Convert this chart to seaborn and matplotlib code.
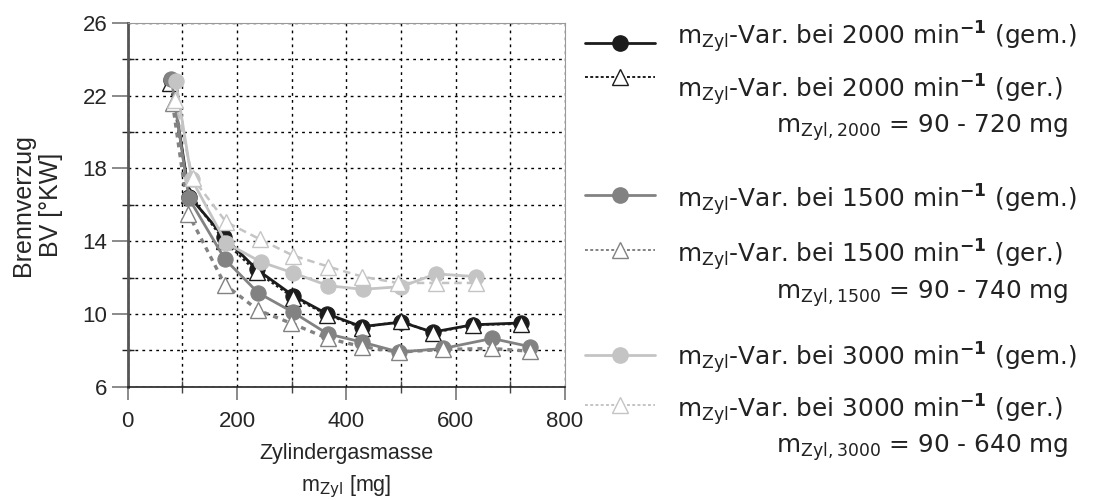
import numpy as np
import pandas as pd
import seaborn as sns
import matplotlib.pyplot as plt
from matplotlib.lines import Line2D
from matplotlib.ticker import MultipleLocator

# 2000 1/min
x_2000_gem = [80, 113, 177, 236, 303, 365, 428, 501, 558, 631, 719]
bv_2000_gem = [22.85, 16.45, 14.2, 12.45, 11.0, 10.0, 9.3, 9.55, 9.0, 9.4, 9.5]
x_2000_ger = [78, 113, 177, 236, 303, 365, 428, 501, 558, 631, 719]
bv_2000_ger = [22.7, 16.55, 14.0, 12.3, 10.9, 9.95, 9.25, 9.6, 8.95, 9.4, 9.45]

# 1500 1/min
x_1500_gem = [80, 112, 178, 239, 302, 366, 429, 497, 577, 667, 736]
bv_1500_gem = [22.9, 16.35, 13.0, 11.15, 10.1, 8.9, 8.45, 7.9, 8.1, 8.65, 8.2]
x_1500_ger = [82, 111, 178, 239, 298, 366, 429, 497, 577, 666, 736]
bv_1500_ger = [21.6, 15.5, 11.6, 10.2, 9.5, 8.65, 8.2, 7.9, 8.05, 8.1, 7.95]

# 3000 1/min
x_3000_gem = [88, 117, 180, 244, 303, 367, 430, 501, 564, 637]
bv_3000_gem = [22.8, 17.4, 13.9, 12.85, 12.25, 11.55, 11.35, 11.5, 12.2, 12.05]
x_3000_ger = [87, 119, 180, 242, 303, 367, 429, 494, 564, 637]
bv_3000_ger = [21.75, 17.45, 15.05, 14.1, 13.2, 12.6, 12.05, 11.7, 11.7, 11.7]

drehzahl = ["2000", "1500", "3000"]
bereich = ["90 - 720 mg", "90 - 740 mg", "90 - 640 mg"]
farben = ["#1c1c1c", "#828282", "#c4c4c4"]
y_ticks = [6, 10, 14, 18, 22, 26]
x_ticks = [0, 200, 400, 600, 800]

sns.set_style("white")
plt.rcParams['font.family'] = ['Liberation Sans', 'DejaVu Sans']
plt.rcParams['mathtext.fontset'] = 'dejavusans'

fig = plt.figure(figsize=(10.99, 5.0), dpi=100)
ax = fig.add_axes([0.1162, 0.2266, 0.3978, 0.728])

serien = [
    (x_2000_gem, bv_2000_gem, x_2000_ger, bv_2000_ger),
    (x_1500_gem, bv_1500_gem, x_1500_ger, bv_1500_ger),
    (x_3000_gem, bv_3000_gem, x_3000_ger, bv_3000_ger),
]
ger_ls = [(0, (1.2, 1.2)), (0, (1.5, 1.5)), (0, (3, 2))]
ger_lw = [1.6, 2.4, 1.8]

for i, (xg, yg, xr, yr) in enumerate(serien):
    c = farben[i]
    sns.lineplot(x=xg, y=yg, ax=ax, color=c, lw=2.0, marker="o",
                 markersize=11, markeredgecolor=c, markerfacecolor=c,
                 sort=False, zorder=3 + 2 * i)
    sns.lineplot(x=xr, y=yr, ax=ax, color=c, lw=ger_lw[i], linestyle=ger_ls[i],
                 marker="^", markersize=12, markeredgecolor=c,
                 markerfacecolor="white", markeredgewidth=1.0,
                 sort=False, zorder=4 + 2 * i)

ax.set_xlim(0, 800)
ax.set_ylim(6, 26)
ax.set_xticks(x_ticks)
ax.set_yticks(y_ticks)
ax.xaxis.set_minor_locator(MultipleLocator(100))
ax.yaxis.set_minor_locator(MultipleLocator(2))
ax.grid(which="both", color="black", linestyle=(0, (2, 3)), linewidth=1.0)
ax.set_axisbelow(True)

ax.tick_params(axis="x", which="major", direction="out", length=9.5, width=1.2,
               color="#777777", labelsize=16, pad=8, bottom=True)
ax.tick_params(axis="x", which="minor", direction="inout", length=8, width=1,
               color="#444444", bottom=True)
ax.tick_params(axis="y", which="major", direction="out", length=11.5, width=1.2,
               color="#777777", labelsize=16, pad=3, left=True)
ax.tick_params(axis="y", which="minor", direction="inout", length=9, width=1,
               color="#222222", left=True)

for s in ["top", "right"]:
    ax.spines[s].set_color("#999999")
    ax.spines[s].set_linewidth(0.8)
ax.spines["left"].set_color("#555555")
ax.spines["left"].set_linewidth(2.0)
ax.spines["bottom"].set_color("#222222")
ax.spines["bottom"].set_linewidth(1.2)

ax.set_ylabel("Brennverzug\nBV [°KW]", fontsize=18, labelpad=14,
              linespacing=1.2)
ax.set_xlabel("Zylindergasmasse\nm$_{\\mathrm{Zyl}}$ [mg]", fontsize=15.5,
              labelpad=8, linespacing=1.5)

# Legende
zeilen_y = [[0.914, 0.846], [0.610, 0.500], [0.290, 0.190]]
text_y = [[0.926, 0.820], [0.600, 0.490], [0.284, 0.180]]
bereich_y = [0.745, 0.413, 0.104]
gdef = ["gem.", "ger."]
for i in range(3):
    c = farben[i]
    for j in range(2):
        yy = zeilen_y[i][j]
        if j == 0:
            h = Line2D([0.532, 0.596], [yy, yy], color=c, lw=2.0,
                       transform=fig.transFigure)
            m = Line2D([0.564], [yy], marker="o", markersize=11, color=c,
                       transform=fig.transFigure)
        else:
            h = Line2D([0.532, 0.596], [yy, yy], color=c, lw=1.4,
                       linestyle=(0, (1.5, 1.2)), transform=fig.transFigure)
            m = Line2D([0.564], [yy], marker="^", markersize=12,
                       markerfacecolor="white", markeredgecolor=c,
                       markeredgewidth=1.0, color=c, transform=fig.transFigure)
        fig.add_artist(h)
        fig.add_artist(m)
        fig.text(0.616, text_y[i][j],
                 "m$_{\\mathrm{Zyl}}$-Var. bei " + drehzahl[i] +
                 " min$^{\\mathbf{-1}}$ (" + gdef[j] + ")",
                 fontsize=17.8, family="DejaVu Sans", color="#222222",
                 va="center", ha="left")
    fig.text(0.972, bereich_y[i],
             "m$_{\\mathrm{Zyl," + drehzahl[i] + "}}$ = " + bereich[i],
             fontsize=17.8, family="DejaVu Sans", color="#222222",
             va="center", ha="right")

fig.savefig("out.png", dpi=100)
plt.close(fig)
